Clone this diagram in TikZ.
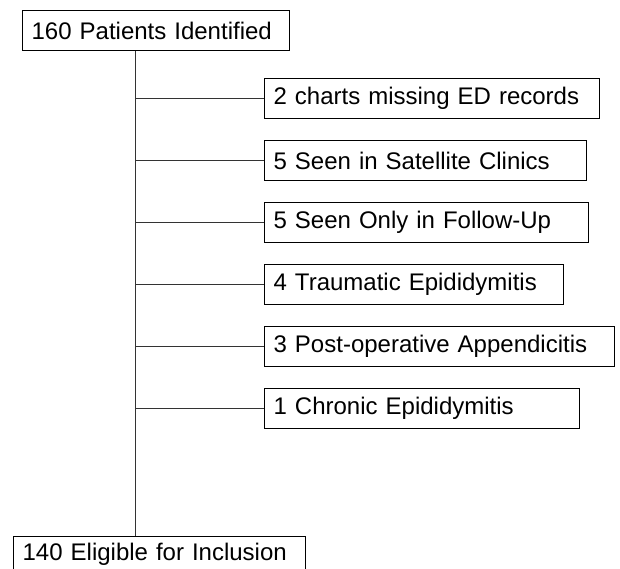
\documentclass[tikz,border=0pt]{standalone}
\usepackage{fontspec}
\setmainfont{Liberation Sans}
\begin{document}
\begin{tikzpicture}[x=1pt,y=-1pt,
  box/.style={draw=black,line width=1.3pt,rectangle,anchor=north west,
    inner xsep=9pt,inner ysep=0pt,align=left,font=\fontsize{24}{28}\selectfont},
  link/.style={draw=black!80,line width=0.9pt}]
\useasboundingbox[fill=white] (0,0) rectangle (620,569);
% boxes: (left,top), width, height
\node[box,minimum width=267pt,text width=249pt,minimum height=40pt] (top) at (22,10) {160 Patients Identified};
\node[box,minimum width=335pt,text width=317pt,minimum height=40pt] (b1) at (264,78) {2 charts missing ED records};
\node[box,minimum width=322pt,text width=304pt,minimum height=40pt] (b2) at (264,140) {5 Seen in Satellite Clinics};
\node[box,minimum width=324pt,text width=306pt,minimum height=40pt] (b3) at (264,202) {5 Seen Only in Follow-Up};
\node[box,minimum width=299pt,text width=281pt,minimum height=40pt] (b4) at (264,264) {4 Traumatic Epididymitis};
\node[box,minimum width=350pt,text width=332pt,minimum height=40pt] (b5) at (264,326) {3 Post-operative Appendicitis};
\node[box,minimum width=315pt,text width=297pt,minimum height=40pt] (b6) at (264,388) {1 Chronic Epididymitis};
\node[box,minimum width=292pt,text width=274pt,minimum height=36pt] (bot) at (13,536) {140 Eligible for Inclusion};
\coordinate (trunk) at (135,0);
\draw[link] (top.south -| trunk) -- (bot.north -| trunk);
\foreach \b in {b1,b2,b3,b4,b5,b6}{
  \draw[link] (\b.west -| trunk) -- (\b.west);
}
\end{tikzpicture}
\end{document}
